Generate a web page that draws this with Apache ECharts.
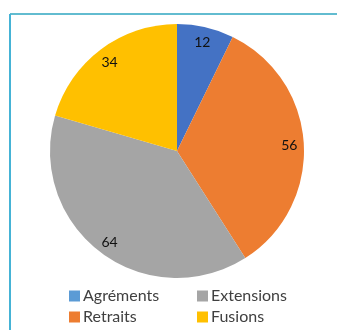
<!DOCTYPE html>
<html><head><meta charset="utf-8">
<script src="https://cdn.jsdelivr.net/npm/echarts@6/dist/echarts.min.js"></script>
<style>html,body{margin:0;padding:0;background:#fff}#c{width:337px;height:330px}</style>
</head><body><div id="c"></div>
<script>
const categories = ['Agréments', 'Retraits', 'Extensions', 'Fusions'];
const values = [12, 56, 64, 34];
const sliceColors = ['#4472C4', '#ED7D31', '#A5A5A5', '#FFC000'];
const legendColors = ['#5B9BD5', '#ED7D31', '#A5A5A5', '#FFC000'];

const chart = echarts.init(document.getElementById('c'), null, {renderer: 'canvas'});
const data = categories.map((n, i) => ({name: n, value: values[i], itemStyle: {color: sliceColors[i]}}));
const labelData = categories.map((n, i) => ({name: n, value: values[i]}));
const font = 'Lato, "Open Sans", sans-serif';
function legendFor(names, left) {
  return {
    orient: 'vertical', left: left, top: 288, height: 42, padding: 0,
    itemWidth: 11, itemHeight: 11, itemGap: 5,
    icon: 'rect', selectedMode: false,
    textStyle: {fontFamily: font, fontSize: 16, color: '#404040', lineHeight: 16, padding: [0, 0, 0, -2]},
    data: names.map(n => ({name: n, itemStyle: {color: legendColors[categories.indexOf(n)]}}))
  };
}
chart.setOption({
  animation: false,
  legend: [legendFor([categories[0], categories[1]], 69), legendFor([categories[2], categories[3]], 197)],
  graphic: [
    {type: 'line', shape: {x1: 10, y1: 14, x2: 337, y2: 14}, style: {stroke: '#62BCD0', lineWidth: 2}},
    {type: 'line', shape: {x1: 10, y1: 14, x2: 10, y2: 330}, style: {stroke: '#45B3D6', lineWidth: 2}}
  ],
  series: [
    {
      type: 'pie', center: [177, 151], radius: [0, 127], startAngle: 90, clockwise: true,
      label: {show: false}, labelLine: {show: false}, silent: true,
      itemStyle: {borderWidth: 0}, data: data
    },
    {
      type: 'pie', center: [177, 152], radius: [92, 127], startAngle: 90, clockwise: true,
      silent: true, legendHoverLink: false,
      itemStyle: {color: 'rgba(0,0,0,0)', borderWidth: 0},
      label: {show: true, position: 'inside', formatter: '{c}', fontFamily: font, fontSize: 14, color: '#111111'},
      labelLine: {show: false}, data: labelData
    }
  ]
});
</script></body></html>
